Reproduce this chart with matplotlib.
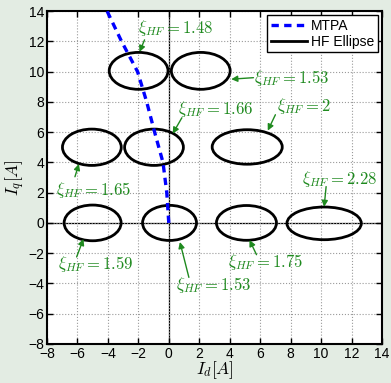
"""HF ellipses in the dq current plane, with MTPA trajectory."""

import matplotlib
matplotlib.use('Agg')
import matplotlib.pyplot as plt
from matplotlib.lines import Line2D
from matplotlib.patches import Ellipse

plt.rcParams['font.family'] = ['Liberation Sans', 'DejaVu Sans']
plt.rcParams['mathtext.fontset'] = 'cm'

# MTPA trajectory (Id, Iq)
mtpa_id = [0, -0.13, -0.38, -0.93, -1.45, -2.05, -3.1, -4.05]
mtpa_iq = [0, 2, 4, 6, 8, 10, 12, 14]

# HF ellipses: centre and semi-axes
ell_cx = [-5.0, 0.05, 5.1, 10.2, -5.05, -0.97, 5.15, -1.98, 2.1]
ell_cy = [0.0, 0.0, 0.0, -0.03, 5.0, 5.0, 5.02, 10.05, 10.05]
ell_a = [1.87, 1.77, 1.97, 2.44, 1.93, 1.93, 2.3, 1.93, 1.93]
ell_b = [1.18, 1.16, 1.15, 1.08, 1.2, 1.2, 1.14, 1.22, 1.22]

# annotations: label, text position (left, centre), arrow tail, arrow head
xi_labels = ['1.48', '1.53', '1.66', '2', '1.65', '1.59', '1.53', '1.75', '2.28']
text_x = [-2.05, 5.6, 0.6, 7.1, -7.4, -7.3, 0.46, 3.9, 8.74]
text_y = [12.9, 9.6, 7.5, 7.7, 2.2, -2.7, -4.1, -2.58, 2.9]
tail_x = [-1.59, 5.56, 0.86, 7.0, -6.16, -6.05, 1.32, 5.76, 10.33]
tail_y = [12.1, 9.6, 6.95, 7.15, 3.05, -2.25, -3.6, -2.1, 2.4]
head_x = [-1.92, 4.1, 0.26, 6.5, -5.9, -5.6, 0.73, 5.3, 10.2]
head_y = [11.3, 9.5, 5.9, 6.1, 3.9, -1.06, -1.26, -1.13, 1.06]

BG = '#e3ece3'
GREEN = '#1f8a1f'

fig = plt.figure(figsize=(3.91, 3.83), dpi=100, facecolor=BG)
ax = fig.add_axes([0.120, 0.102, 0.857, 0.869])

ax.axhline(0, color='black', lw=0.9, zorder=1)
ax.axvline(0, color='black', lw=0.9, zorder=1)

for cx, cy, a, b in zip(ell_cx, ell_cy, ell_a, ell_b):
    ax.add_patch(Ellipse((cx, cy), 2 * a, 2 * b, fill=False,
                         edgecolor='black', lw=2, zorder=3))

ax.plot(mtpa_id, mtpa_iq, color='blue', lw=2.4, ls=(0, (2.2, 1.6)), zorder=4)

for lab, tx, ty, x0, y0, x1, y1 in zip(xi_labels, text_x, text_y,
                                        tail_x, tail_y, head_x, head_y):
    ax.text(tx, ty, r'$\xi_{HF} = ' + lab + '$', color=GREEN, fontsize=12,
            ha='left', va='center', zorder=5)
    ax.annotate('', xy=(x1, y1), xytext=(x0, y0),
                arrowprops=dict(arrowstyle='-|>', color=GREEN, lw=1.0,
                                mutation_scale=9, shrinkA=0, shrinkB=0),
                zorder=5)

ax.set_xlim(-8, 14)
ax.set_ylim(-8, 14)
ax.set_xticks(range(-8, 15, 2))
ax.set_yticks(range(-8, 15, 2))
ax.tick_params(direction='in', top=True, right=True, length=4, width=1,
               labelsize=10, pad=2)
ax.grid(True, ls=':', color='#9a9a9a', lw=0.8)
for sp in ax.spines.values():
    sp.set_linewidth(1.5)

ax.set_xlabel(r'$I_d[A]$', fontsize=12.5, labelpad=-1)
ax.set_ylabel(r'$I_q[A]$', fontsize=12.5, labelpad=1)

handles = [
    Line2D([], [], color='blue', lw=2.4, ls=(0, (2.2, 1.6))),
    Line2D([], [], color='black', lw=2),
]
leg = ax.legend(handles, ['MTPA', 'HF Ellipse'], loc='upper right',
                fontsize=10, fancybox=False, framealpha=1, edgecolor='black',
                borderpad=0.25, handlelength=2.6, handletextpad=0.3,
                labelspacing=0.15, borderaxespad=0.3)
leg.get_frame().set_linewidth(1.0)

fig.savefig('out.png', dpi=100, facecolor=BG)
